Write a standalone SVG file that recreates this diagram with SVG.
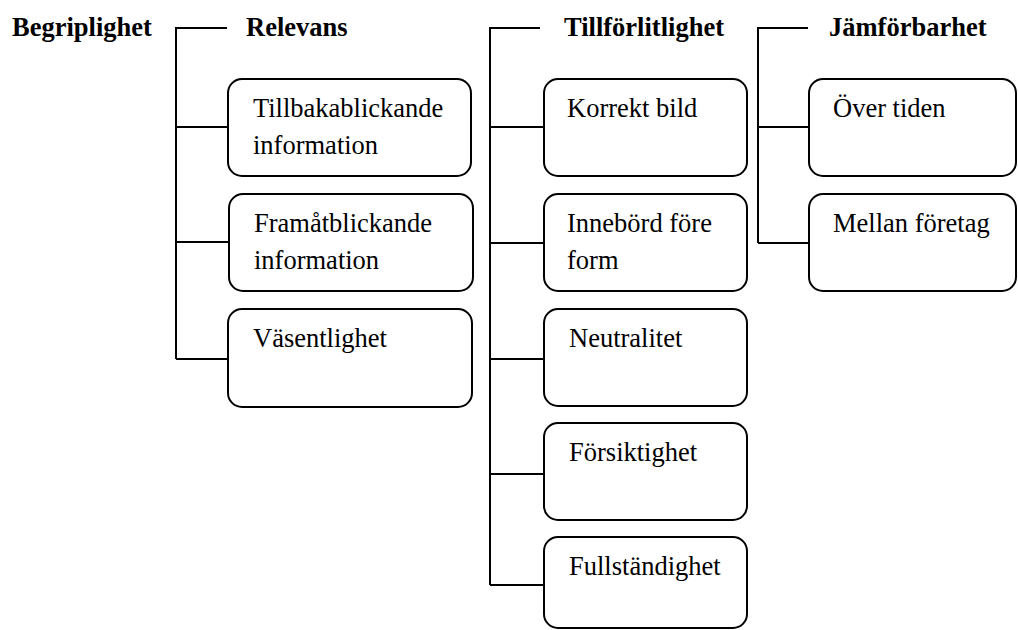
<svg xmlns="http://www.w3.org/2000/svg" width="1018" height="630" viewBox="0 0 1018 630">
<style>
.bg{fill:#fff}
.box{fill:#fff;stroke:#000;stroke-width:2}
.ln{fill:none;stroke:#000;stroke-width:2}
.t{font-size:26.5px;fill:#000}
.h{font-size:26.5px;font-weight:bold;fill:#000}
</style>
<rect class="bg" x="0" y="0" width="1018" height="630"/>
<g id="connectors">
<path class="ln" d="M227,28 H176 V359 M176,127 H228 M176,242 H229 M176,359 H228"/>
<path class="ln" d="M540,28 H490 V585 M490,127 H544 M490,243 H544 M490,359 H544 M490,474 H544 M490,585 H544"/>
<path class="ln" d="M808,28 H758 V243 M758,127 H809 M758,243 H809"/>
</g>
<g id="begriplighet"><text class="h" font-family="Liberation Serif, serif" x="12" y="36">Begriplighet</text></g>
<g id="relevans"><text class="h" font-family="Liberation Serif, serif" x="246" y="36">Relevans</text></g>
<g id="tillforlitlighet"><text class="h" font-family="Liberation Serif, serif" x="564" y="36">Tillförlitlighet</text></g>
<g id="jamforbarhet"><text class="h" font-family="Liberation Serif, serif" x="829" y="36">Jämförbarhet</text></g>
<g id="tillbakablickande"><rect class="box" x="228" y="79" width="243" height="97" rx="14"/><text class="t" font-family="Liberation Serif, serif" x="253" y="117">Tillbakablickande</text><text class="t" font-family="Liberation Serif, serif" x="253" y="154">information</text></g>
<g id="framatblickande"><rect class="box" x="229" y="194" width="244" height="97" rx="14"/><text class="t" font-family="Liberation Serif, serif" x="254" y="232">Framåtblickande</text><text class="t" font-family="Liberation Serif, serif" x="254" y="269">information</text></g>
<g id="vasentlighet"><rect class="box" x="228" y="309" width="244" height="98" rx="14"/><text class="t" font-family="Liberation Serif, serif" x="253" y="347">Väsentlighet</text></g>
<g id="korrekt"><rect class="box" x="544" y="79" width="203" height="97" rx="14"/><text class="t" font-family="Liberation Serif, serif" x="567" y="117">Korrekt bild</text></g>
<g id="innebord"><rect class="box" x="544" y="194" width="203" height="97" rx="14"/><text class="t" font-family="Liberation Serif, serif" x="567" y="232">Innebörd före</text><text class="t" font-family="Liberation Serif, serif" x="567" y="269">form</text></g>
<g id="neutralitet"><rect class="box" x="544" y="309" width="203" height="97" rx="14"/><text class="t" font-family="Liberation Serif, serif" x="569" y="347">Neutralitet</text></g>
<g id="forsiktighet"><rect class="box" x="544" y="423" width="203" height="97" rx="14"/><text class="t" font-family="Liberation Serif, serif" x="569" y="461">Försiktighet</text></g>
<g id="fullstandighet"><rect class="box" x="544" y="537" width="203" height="91" rx="14"/><text class="t" font-family="Liberation Serif, serif" x="569" y="575">Fullständighet</text></g>
<g id="overtiden"><rect class="box" x="809" y="79" width="207" height="97" rx="14"/><text class="t" font-family="Liberation Serif, serif" x="833" y="117">Över tiden</text></g>
<g id="mellanforetag"><rect class="box" x="809" y="194" width="207" height="97" rx="14"/><text class="t" font-family="Liberation Serif, serif" x="833" y="232">Mellan företag</text></g>
</svg>
